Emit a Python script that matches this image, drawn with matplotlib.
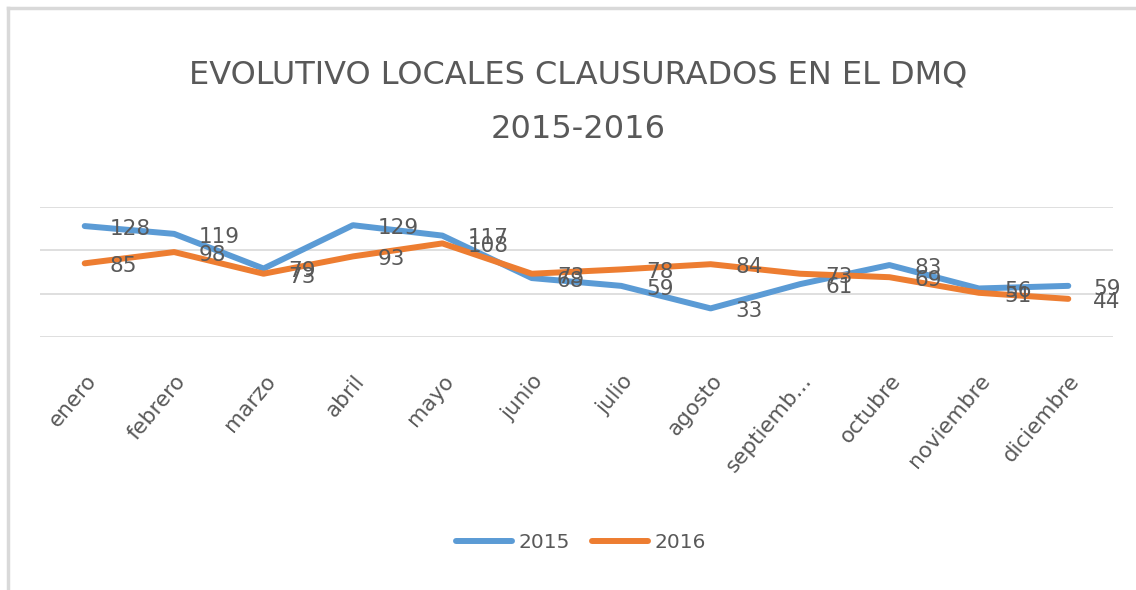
import matplotlib.pyplot as plt
import matplotlib.transforms as mtransforms
from matplotlib.lines import Line2D

# datos
meses = ["enero", "febrero", "marzo", "abril", "mayo", "junio", "julio",
         "agosto", "septiemb...", "octubre", "noviembre", "diciembre"]
v2015 = [128, 119, 79, 129, 117, 68, 59, 33, 61, 83, 56, 59]
v2016 = [85, 98, 73, 93, 108, 73, 78, 84, 73, 69, 51, 44]
series = ["2015", "2016"]

azul = "#5B9BD5"
naranja = "#ED7D31"
gris = "#595959"

plt.rcParams['font.family'] = ['DejaVu Sans']

fig = plt.figure(figsize=(11.36, 5.90), dpi=100)
ax = fig.add_axes([40 / 1136, 1 - 337 / 590, (1113 - 40) / 1136, 130 / 590])

x = list(range(len(meses)))
ax.plot(x, v2015, color=azul, linewidth=4.3, solid_capstyle='round', label=series[0], zorder=3)
ax.plot(x, v2016, color=naranja, linewidth=4.3, solid_capstyle='round', label=series[1], zorder=3)

# etiquetas de datos a la derecha de cada punto (se solapan igual que en el original)
for vals in (v2015, v2016):
    for i, v in enumerate(vals):
        ax.annotate(str(v), (i, v), xytext=(18, -2), textcoords='offset points',
                    ha='left', va='center', fontsize=15.5, color=gris, zorder=4)

ax.set_xlim(-0.5, 11.5)
ax.set_ylim(0, 150)
ax.set_yticks([0, 50, 100, 150])
ax.set_yticklabels([])
ax.tick_params(axis='y', length=0)
ax.grid(axis='y', color='#D9D9D9', linewidth=1.2)
ax.set_axisbelow(True)
for s in ax.spines.values():
    s.set_visible(False)

ax.set_xticks(x)
ax.set_xticklabels(meses, rotation=50, ha='right', va='center', rotation_mode='anchor',
                   fontsize=15.5, color=gris)
ax.tick_params(axis='x', length=0, pad=29)
desplaza = mtransforms.ScaledTranslation(8 / 100, 0, fig.dpi_scale_trans)
for lab in ax.get_xticklabels():
    lab.set_transform(lab.get_transform() + desplaza)

fig.text(0.509, 1 - 75 / 590, "EVOLUTIVO LOCALES CLAUSURADOS EN EL DMQ",
         ha='center', va='center', fontsize=23, color=gris)
fig.text(0.509, 1 - 130 / 590, "2015-2016",
         ha='center', va='center', fontsize=23, color=gris)

handles = [Line2D([0], [0], color=azul, linewidth=4.3, solid_capstyle='round'),
           Line2D([0], [0], color=naranja, linewidth=4.3, solid_capstyle='round')]
fig.legend(handles, series, loc='center', bbox_to_anchor=(0.511, 1 - 543 / 590),
           ncol=2, frameon=False, fontsize=14.5, labelcolor=gris,
           handlelength=2.8, handletextpad=0.3, columnspacing=1.1)

# borde del grafico
fig.add_artist(Line2D([8 / 1136, 8 / 1136], [0, 1 - 8 / 590], color='#D9D9D9', linewidth=2.5))
fig.add_artist(Line2D([8 / 1136, 1], [1 - 8 / 590, 1 - 8 / 590], color='#D9D9D9', linewidth=2.5))

fig.savefig("out.png", dpi=100)
